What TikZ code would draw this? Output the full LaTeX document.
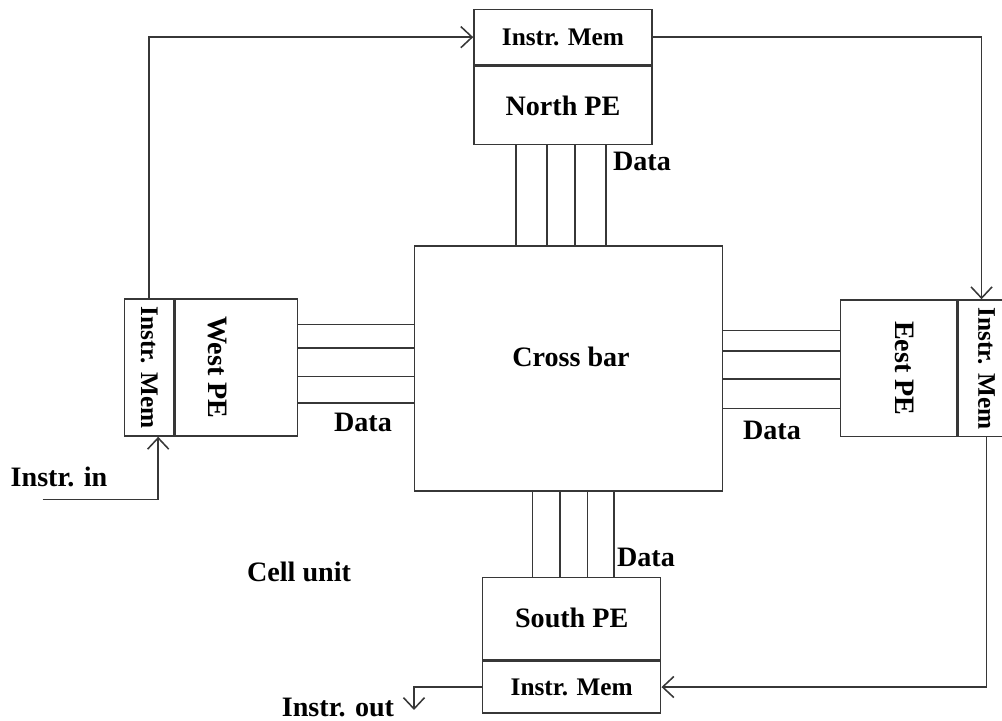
\documentclass[tikz,border=0pt]{standalone}
\usepackage{fontspec}
\setmainfont{Liberation Serif}
\usetikzlibrary{arrows.meta,positioning,calc}
\definecolor{linegray}{RGB}{55,55,55}

\begin{document}
\begin{tikzpicture}[
  box/.style={
    draw=linegray,
    line width=1.1pt,
    inner sep=0pt,
    align=center,
    font=\fontsize{20}{24}\selectfont\bfseries
  },
  membox/.style={box,font=\fontsize{18}{22}\selectfont\bfseries},
  lbl/.style={inner sep=0pt,font=\fontsize{20}{24}\selectfont\bfseries},
  bus/.style={draw=linegray,line width=1.1pt},
  arr/.style={bus,-{Straight Barb[length=8pt,width=15pt]}}
]
\useasboundingbox (0,0) rectangle (25.05,18.025);
\node[box,minimum width=7.7cm,minimum height=6.125cm] (cross) at (14.2175,8.8125) {};
\node[lbl] (crosslbl) at (14.275,9.1) {Cross bar};
\node[membox,minimum width=4.45cm,minimum height=1.39cm] (nmem) at (14.075,17.096) {Instr. Mem};
\node[box,minimum width=4.45cm,minimum height=1.95cm,below=0pt of nmem] (npe) {North PE};
\node[membox,minimum width=1.2425cm,minimum height=3.425cm] (wmem) at (3.729,8.8375) {\rotatebox{-90}{Instr. Mem}};
\node[box,minimum width=3.05cm,minimum height=3.425cm,right=0pt of wmem] (wpe) {\rotatebox{-90}{West PE}\hspace*{0.95cm}};
\node[box,minimum width=2.905cm,minimum height=3.4175cm] (epe) at (22.465,8.816) {\hspace*{0.32cm}\rotatebox{-90}{Eest PE}};
\node[membox,minimum width=1.415cm,minimum height=3.4175cm,right=0pt of epe] (emem) {\rotatebox{-90}{Instr. Mem}};
\node[box,minimum width=4.45cm,minimum height=2.05cm] (spe) at (14.2925,2.5675) {South PE};
\node[membox,minimum width=4.45cm,minimum height=1.31cm,below=0pt of spe] (smem) {Instr. Mem};

\foreach \dx in {-1.175,-0.4,0.3,1.075}
  \draw[bus] ([xshift=\dx cm]npe.south) -- ([xshift=\dx cm]npe.south |- cross.north);
\foreach \dx in {-0.975,-0.29,0.4,1.06}
  \draw[bus] ([xshift=\dx cm]cross.south -| spe.north) -- ([xshift=\dx cm]spe.north);
\foreach \dy in {1.07,0.49,-0.23,-0.89}
  \draw[bus] ([yshift=\dy cm]wpe.east) -- ([yshift=\dy cm]wpe.east -| cross.west);
\foreach \dy in {0.95,0.44,-0.26,-1.0}
  \draw[bus] ([yshift=\dy cm]cross.east |- epe.west) -- ([yshift=\dy cm]epe.west);

\node[lbl] (ndata) at (16.05,14.0) {Data};
\node[lbl] (wdata) at (9.075,7.475) {Data};
\node[lbl] (edata) at (19.3,7.275) {Data};
\node[lbl] (sdata) at (16.15,4.1) {Data};
\node[lbl] (celllbl) at (7.475,3.7375) {Cell unit};

\coordinate (iin) at (1.0675,5.5425);
\coordinate (iout) at (10.35,0.275);
\node[lbl] (inlbl) at (1.475,6.1) {Instr. in};
\node[lbl] (outlbl) at (8.45,0.33) {Instr. out};

\draw[arr] (wmem.north) |- (nmem.west);
\draw[arr] (nmem.east) -| ([xshift=-0.125cm]emem.north);
\draw[arr] (emem.south) |- (smem.east);
\draw[arr] (smem.west) -| (iout);
\draw[arr] (iin) -| ([xshift=0.225cm]wmem.south);
\end{tikzpicture}
\end{document}
